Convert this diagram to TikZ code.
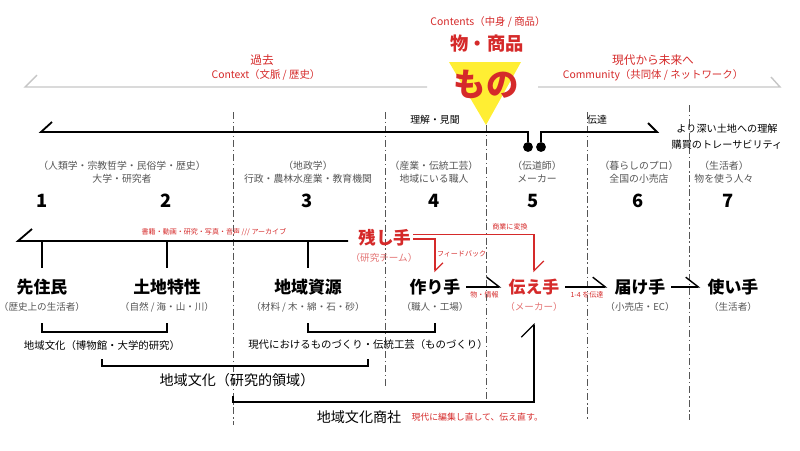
\documentclass[tikz,border=0pt]{standalone}
\usepackage{fontspec}
\setmainfont{Noto Sans CJK JP}
\usetikzlibrary{arrows.meta, positioning}
\definecolor{accent}{HTML}{D52A2A}
\definecolor{accentsoft}{HTML}{E37272}
\definecolor{ink}{HTML}{555555}
\definecolor{rulegray}{HTML}{C6C6C6}
\definecolor{monoyellow}{HTML}{FFEE33}

\begin{document}
\begin{tikzpicture}[
    x=0.025cm, y=-0.025cm,
    actor/.style={font=\fontsize{12}{14}\selectfont\bfseries, inner sep=1pt},
    actorsub/.style={font=\fontsize{6.8}{8}\selectfont, text=ink, inner sep=1pt},
    colhead/.style={font=\fontsize{7}{9.2}\selectfont, text=ink, align=center, inner sep=1pt},
    colnum/.style={font=\fontsize{13}{15}\selectfont\bfseries, inner sep=1pt},
    region/.style={font=\fontsize{7.4}{9}\selectfont, inner sep=1pt},
    tag/.style={font=\fontsize{5}{6}\selectfont, text=accent, inner sep=1pt},
    era/.style={font=\fontsize{8.3}{10}\selectfont, text=accent, inner sep=1pt},
    erasub/.style={font=\fontsize{7.4}{9}\selectfont, text=accent, inner sep=1pt},
    timeline/.style={line width=1.3pt},
    pastline/.style={draw=rulegray, line width=1pt},
    bracket/.style={line width=0.9pt},
    redline/.style={draw=accent, line width=0.9pt},
    guide/.style={draw=ink, line width=0.5pt, dash pattern=on 5pt off 2pt on 1pt off 2pt},
    flow/.style={line width=1pt, shorten <=3pt, shorten >=4pt, -{Straight Barb[left, length=9pt, width=14pt]}},
    dot/.style={circle, fill, inner sep=0pt, minimum size=7pt}
]
\useasboundingbox (0,0) rectangle (800,450);

\foreach \x/\t/\b in {233/112/425, 385/112/388, 486/125/405, 587/112/420, 689/105/420}
    \draw[guide] (\x,\t) -- (\x,\b);

\coordinate (pastL) at (25,87);
\coordinate (pastR) at (427,87);
\coordinate (futL) at (538,87);
\coordinate (futR) at (780,87);
\draw[pastline] (pastL) ++(12,-12) -- (pastL) -- (pastR);
\draw[pastline] (futL) -- (futR) -- ++(-9,-10);

\node[era] (past) at (262,60) {過去};
\node[erasub] (context) at (266,75) {Context（文脈 / 歴史）};
\node[era] (future) at (653,60) {現代から未来へ};
\node[erasub] (community) at (653,75) {Community（共同体 / ネットワーク）};

\fill[monoyellow] (449,62) -- (521,62) -- (486,125) -- cycle;
\node[erasub] (contents) at (488,22) {Contents（中身 / 商品）};
\node[font=\fontsize{13}{15}\selectfont\bfseries, text=accent, inner sep=1pt] (goods) at (487,44) {物・商品};
\node[font=\fontsize{23}{25}\selectfont\bfseries, text=accent, inner sep=1pt] (mono) at (486,84) {もの};

\coordinate (tlL) at (41,132);
\coordinate (tlR) at (657,132);
\node[dot] (dotA) at (528,147) {};
\node[dot] (dotB) at (541,147) {};
\draw[timeline] (tlL) ++(11,-10) -- (tlL) -- (dotA |- tlL) -- (dotA);
\draw[timeline] (dotB) -- (dotB |- tlR) -- (tlR) -- ++(-9,-9);
\node[font=\fontsize{7}{9}\selectfont, inner sep=1pt] (rikai) at (435,120) {理解・見聞};
\node[font=\fontsize{7}{9}\selectfont, inner sep=1pt] (dentatsu) at (597,120) {伝達};
\node[font=\fontsize{7.2}{11.3}\selectfont, align=center, inner sep=1pt] (trace) at (727,137) {より深い土地への理解\\購買のトレーサビリティ};

\node[colhead] (head12) at (122,172) {（人類学・宗教哲学・民俗学・歴史）\\大学・研究者};
\node[colhead] (head3) at (308,172) {（地政学）\\行政・農林水産業・教育機関};
\node[colhead] (head4) at (434,172) {（産業・伝統工芸）\\地域にいる職人};
\node[colhead] (head5) at (537,172) {（伝道師）\\メーカー};
\node[colhead] (head6) at (639,172) {（暮らしのプロ）\\全国の小売店};
\node[colhead] (head7) at (724,172) {（生活者）\\物を使う人々};

\node[colnum] (n1) at (42,201) {1};
\node[colnum] (n2) at (166,201) {2};
\node[colnum] (n3) at (307,201) {3};
\node[colnum] (n4) at (434,201) {4};
\node[colnum] (n5) at (533,201) {5};
\node[colnum] (n6) at (638,201) {6};
\node[colnum] (n7) at (728,201) {7};

\node[actor] (senju) at (42,287) {先住民};
\node[actor] (tochi) at (167,287) {土地特性};
\node[actor] (shigen) at (308,287) {地域資源};
\node[actor] (tsukuri) at (435,287) {作り手};
\node[actor, text=accent] (tsutae) at (534,287) {伝え手};
\node[actor] (todoke) at (640,287) {届け手};
\node[actor] (tsukai) at (733,287) {使い手};

\node[actorsub, below=3pt of senju] (senjusub) {（歴史上の生活者）};
\node[actorsub, below=3pt of tochi] (tochisub) {（自然 / 海・山・川）};
\node[actorsub, below=3pt of shigen] (shigensub) {（材料 / 木・綿・石・砂）};
\node[actorsub, below=3pt of tsukuri] (tsukurisub) {（職人・工場）};
\node[actorsub, below=3pt of tsutae, text=accentsoft] (tsutaesub) {（メーカー）};
\node[actorsub, below=3pt of todoke] (todokesub) {（小売店・EC）};
\node[actorsub, below=3pt of tsukai] (tsukaisub) {（生活者）};

\coordinate (arcL) at (18,241);
\coordinate (arcR) at (348,241);
\coordinate (arcend) at (0,268);
\draw[timeline] (arcL) ++(14,-12) -- (arcL) -- (arcR);
\foreach \n in {senju, tochi, shigen}
    \draw[bracket] (\n |- arcL) -- (\n |- arcend);
\node[tag] (archive) at (214,232) {書籍・動画・研究・写真・音声 /// アーカイブ};

\node[font=\fontsize{12.5}{14}\selectfont\bfseries, text=accent, inner sep=1pt] (nokoshi) at (385,238) {残し手};
\node[actorsub, text=accentsoft] (nokoshisub) at (384,258) {（研究チーム）};

\draw[redline, -{Straight Barb[left, length=7pt, width=14pt]}] ([yshift=2.5pt]nokoshi.east) -| ([yshift=3.5pt]tsutae.north);
\draw[redline, -{Straight Barb[left, length=5.7pt, width=11.4pt]}] ([yshift=-0.7pt]nokoshi.east) -| node[tag, right, pos=0.72] (feedback) {フィードバック} ([yshift=3.5pt]tsukuri.north);
\node[tag] (shogyo) at (510,227) {商業に変換};

\draw[flow] (tsukuri) -- node[tag, below=2pt] (butsu) {物・情報} (tsutae);
\draw[flow] (tsutae) -- node[tag, below=2pt] (denta) {1-4 を伝達} (todoke);
\draw[flow] (todoke) -- (tsukai);

\coordinate (b1top) at (0,323);
\coordinate (b1) at (0,332);
\coordinate (b3top) at (0,359);
\coordinate (b3) at (0,366);
\coordinate (b4top) at (0,396);
\coordinate (b4) at (0,402);
\coordinate (g1) at (233,0);

\draw[bracket] (senju |- b1top) -- (senju |- b1) -- (tochi |- b1) -- (tochi |- b1top);
\draw[bracket] (shigen |- b1top) -- (shigen |- b1) -- (tsukuri |- b1) -- (tsukuri |- b1top);
\node[region] (bunka1) at (102,346) {地域文化（博物館・大学的研究）};
\node[region] (monozukuri) at (368,345) {現代におけるものづくり・伝統工芸（ものづくり）};
\draw[bracket] (bunka1 |- b3top) -- (bunka1 |- b3) -- (monozukuri |- b3) -- (monozukuri |- b3top);
\node[font=\fontsize{10}{12}\selectfont, inner sep=1pt] (kenkyu) at (237,380) {地域文化（研究的領域）};
\draw[bracket, -{Straight Barb[left, length=9pt, width=18pt]}] (g1 |- b4top) -- (g1 |- b4) -- (tsutaesub |- b4) -- (tsutaesub |- b1top);
\node[font=\fontsize{10}{12}\selectfont, inner sep=1pt] (shosha) at (359,417) {地域文化商社};
\node[font=\fontsize{6.3}{8}\selectfont, text=accent, inner sep=1pt, right=5pt of shosha] (naoshi) {現代に編集し直して、伝え直す。};

\end{tikzpicture}
\end{document}
